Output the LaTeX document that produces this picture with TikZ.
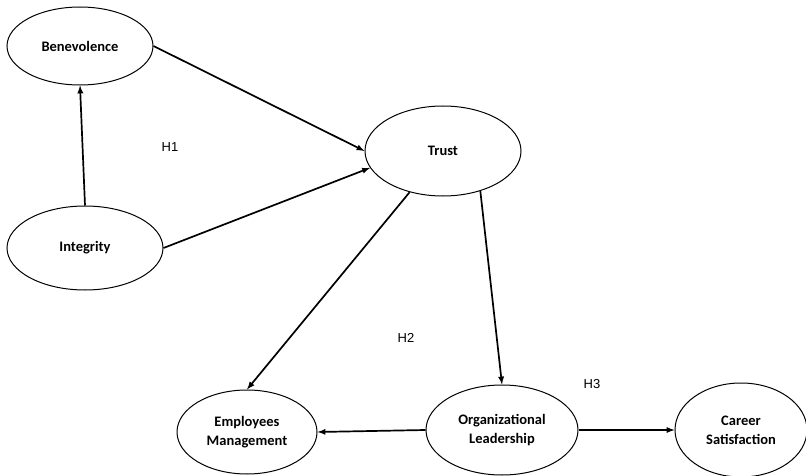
\documentclass[tikz,border=0pt]{standalone}
\usepackage{fontspec}
\setmainfont{Carlito}
\newfontfamily\hypfont{Liberation Sans}
\usetikzlibrary{shapes.geometric, arrows}
\tikzstyle{construct} = [ellipse, draw, line width=1pt, inner sep=0pt, align=center, font=\bfseries\fontsize{14.5}{19}\selectfont]
\tikzstyle{hyp} = [font=\hypfont\fontsize{13}{15}\selectfont]
\tikzstyle{arrow} = [line width=1.7pt,->,>=latex]

\begin{document}
\begin{tikzpicture}[x=1pt,y=-1pt]
    \useasboundingbox (0,0) rectangle (806,476);
    \node [construct, minimum width=146, minimum height=78] at (80,46) (ben) {Benevolence};
    \node [construct, minimum width=156, minimum height=84] at (85,248) (integ) {Integrity};
    \node [construct, minimum width=156, minimum height=90] at (443,151) (trust) {Trust};
    \node [construct, minimum width=140, minimum height=84] at (247,432) (empl) {Employees\\Management};
    \node [construct, minimum width=152, minimum height=90] at (502,430) (org) {Organizational\\Leadership};
    \node [construct, minimum width=132, minimum height=94] at (741,430) (career) {Career\\Satisfaction};
    \node [hyp] at (170,147) (h1) {H1};
    \node [hyp] at (406,338) (h2) {H2};
    \node [hyp] at (592,384) (h3) {H3};

    \draw [arrow] (integ.north) -- (ben.south);
    \draw [arrow] (ben.east) -- (trust.west);
    \draw [arrow] (integ.east) -- (trust.193);
    \draw [arrow] (trust.231) -- (empl.north);
    \draw [arrow] (trust.313) -- (org.north);
    \draw [arrow] (org.west) -- (empl.east);
    \draw [arrow] (org.east) -- (career.west);
\end{tikzpicture}
\end{document}
